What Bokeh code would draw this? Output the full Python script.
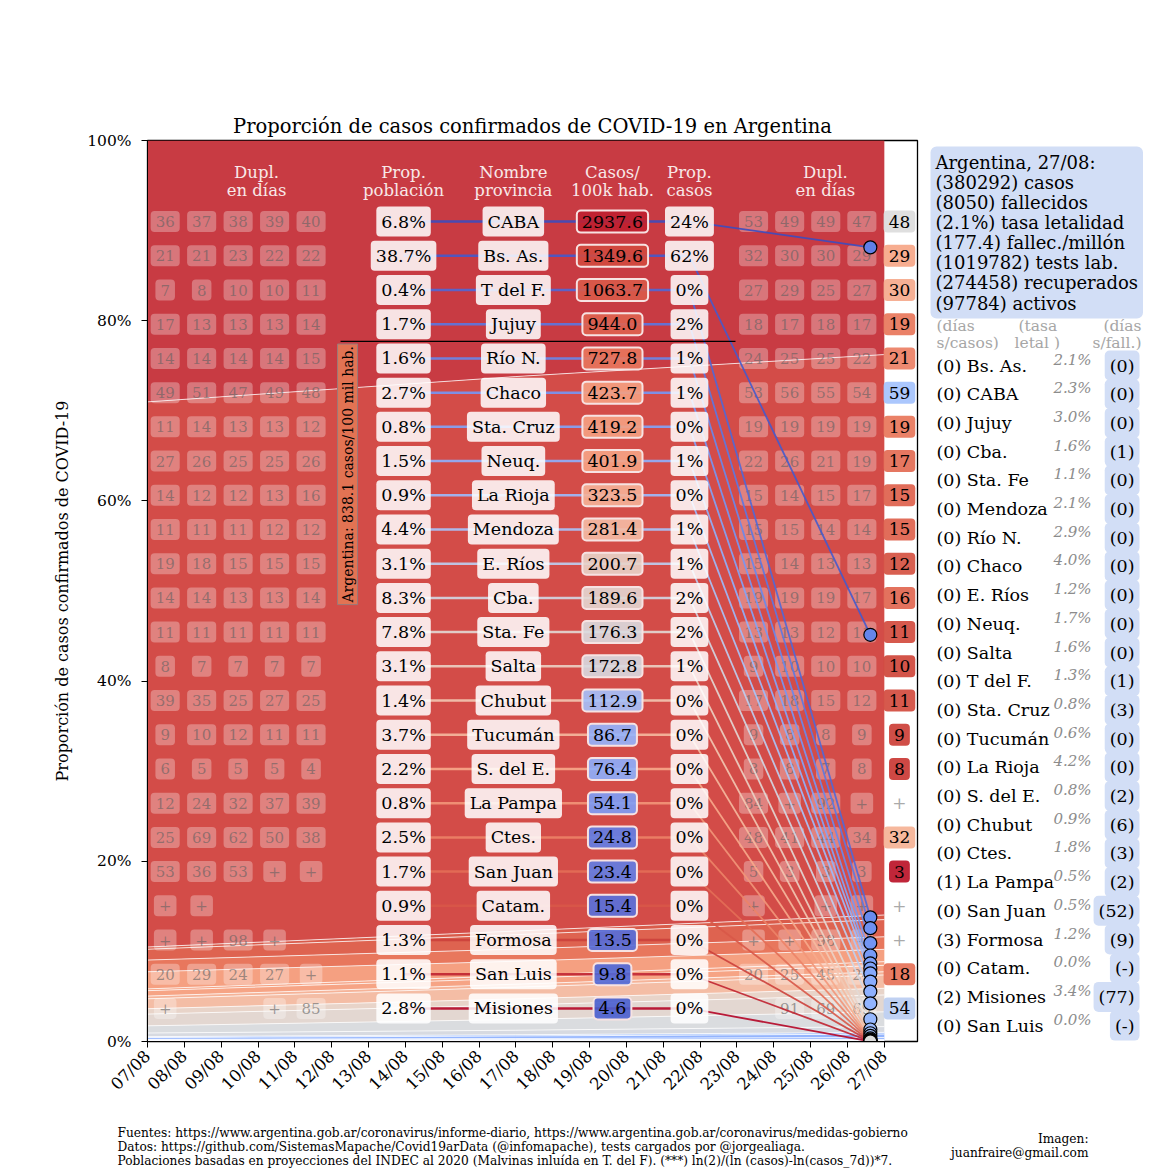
import math
from bokeh.plotting import figure
from bokeh.layouts import column, row
from bokeh.models import Range1d, FixedTicker, ColumnDataSource
from bokeh.core.properties import value
from bokeh.embed import file_html
from bokeh.resources import INLINE

FONT = "DejaVu Serif"

# ---------------- data ----------------
dates = ["07/08", "08/08", "09/08", "10/08", "11/08", "12/08", "13/08", "14/08", "15/08",
         "16/08", "17/08", "18/08", "19/08", "20/08", "21/08", "22/08", "23/08", "24/08",
         "25/08", "26/08", "27/08"]
area_dates = ["07/08", "17/08", "27/08"]

provinces = ["CABA", "Bs. As.", "T del F.", "Jujuy", "Río N.", "Chaco", "Sta. Cruz", "Neuq.",
             "La Rioja", "Mendoza", "E. Ríos", "Cba.", "Sta. Fe", "Salta", "Chubut", "Tucumán",
             "S. del E.", "La Pampa", "Ctes.", "San Juan", "Catam.", "Formosa", "San Luis", "Misiones"]
population_pct = [6.8, 38.7, 0.4, 1.7, 1.6, 2.7, 0.8, 1.5, 0.9, 4.4, 3.1, 8.3, 7.8, 3.1, 1.4, 3.7,
                  2.2, 0.8, 2.5, 1.7, 0.9, 1.3, 1.1, 2.8]
cases_per_100k = [2937.6, 1349.6, 1063.7, 944.0, 727.8, 423.7, 419.2, 401.9, 323.5, 281.4, 200.7,
                  189.6, 176.3, 172.8, 112.9, 86.7, 76.4, 54.1, 24.8, 23.4, 15.4, 13.5, 9.8, 4.6]
cases_pct = [24, 62, 0, 2, 1, 1, 0, 1, 0, 1, 1, 2, 2, 1, 0, 0, 0, 0, 0, 0, 0, 0, 0, 0]
argentina_rate = 838.1

# share of confirmed cases (%) per province at 07/08, 17/08, 27/08 (estimated)
share_0708 = [29.0, 60.5, 0.25, 1.2, 1.3, 1.9, 0.2, 0.6, 0.3, 1.1, 0.6, 1.3, 0.8, 0.4, 0.1, 0.2,
              0.05, 0.03, 0.06, 0.03, 0.01, 0.03, 0.01, 0.02]
share_1708 = [26.2, 61.54, 0.4, 1.6, 1.35, 1.6, 0.3, 0.65, 0.33, 1.3, 0.68, 1.6, 1.2, 0.5, 0.14,
              0.28, 0.12, 0.04, 0.07, 0.04, 0.01, 0.02, 0.01, 0.02]
share_2708 = [23.8, 62.2, 0.51, 1.91, 1.39, 1.37, 0.40, 0.72, 0.35, 1.48, 0.74, 1.88, 1.64, 0.64,
              0.19, 0.38, 0.20, 0.05, 0.07, 0.05, 0.02, 0.02, 0.01, 0.02]

dupl_left = [
    ["36", "37", "38", "39", "40"], ["21", "21", "23", "22", "22"], ["7", "8", "10", "10", "11"],
    ["17", "13", "13", "13", "14"], ["14", "14", "14", "14", "15"], ["49", "51", "47", "49", "48"],
    ["11", "14", "13", "13", "12"], ["27", "26", "25", "25", "26"], ["14", "12", "12", "13", "16"],
    ["11", "11", "11", "12", "12"], ["19", "18", "15", "15", "15"], ["14", "14", "13", "13", "14"],
    ["11", "11", "11", "11", "11"], ["8", "7", "7", "7", "7"], ["39", "35", "25", "27", "25"],
    ["9", "10", "12", "11", "11"], ["6", "5", "5", "5", "4"], ["12", "24", "32", "37", "39"],
    ["25", "69", "62", "50", "38"], ["53", "36", "53", "+", "+"], ["+", "+", "", "", ""],
    ["+", "+", "98", "+", ""], ["20", "29", "24", "27", "+"], ["+", "", "", "+", "85"],
]
dupl_right = [
    ["53", "49", "49", "47"], ["32", "30", "30", "29"], ["27", "29", "25", "27"], ["18", "17", "18", "17"],
    ["24", "25", "25", "22"], ["53", "56", "55", "54"], ["19", "19", "19", "19"], ["22", "26", "21", "19"],
    ["15", "14", "15", "17"], ["15", "15", "14", "14"], ["15", "14", "13", "13"], ["19", "19", "19", "17"],
    ["13", "13", "12", "11"], ["9", "10", "10", "10"], ["17", "18", "15", "12"], ["9", "8", "8", "9"],
    ["8", "8", "7", "8"], ["84", "+", "92", "+"], ["48", "41", "44", "34"], ["5", "3", "3", "3"],
    ["+", "", "+", "+"], ["+", "+", "98", "+"], ["20", "25", "45", "24"], ["", "91", "69", "69"],
]
dupl_last = ["48", "29", "30", "19", "21", "59", "19", "17", "15", "15", "12", "16", "11", "10",
             "11", "9", "8", "+", "32", "3", "+", "+", "18", "54"]

summary_lines = ["Argentina, 27/08:", "(380292) casos", "(8050) fallecidos", "(2.1%) tasa letalidad",
                 "(177.4) fallec./millón", "(1019782) tests lab.", "(274458) recuperados",
                 "(97784) activos"]
panel_provinces = ["Bs. As.", "CABA", "Jujuy", "Cba.", "Sta. Fe", "Mendoza", "Río N.", "Chaco",
                   "E. Ríos", "Neuq.", "Salta", "T del F.", "Sta. Cruz", "Tucumán", "La Rioja",
                   "S. del E.", "Chubut", "Ctes.", "La Pampa", "San Juan", "Formosa", "Catam.",
                   "Misiones", "San Luis"]
days_since_case = [0, 0, 0, 0, 0, 0, 0, 0, 0, 0, 0, 0, 0, 0, 0, 0, 0, 0, 1, 0, 3, 0, 2, 0]
lethality_pct = [2.1, 2.3, 3.0, 1.6, 1.1, 2.1, 2.9, 4.0, 1.2, 1.7, 1.6, 1.3, 0.8, 0.6, 4.2, 0.8,
                 0.9, 1.8, 0.5, 0.5, 1.2, 0.0, 3.4, 0.0]
days_since_death = ["0", "0", "0", "1", "0", "0", "0", "0", "0", "0", "0", "1", "3", "0", "0", "2",
                    "6", "3", "2", "52", "9", "-", "77", "-"]

footer_lines = [
    "Fuentes: https://www.argentina.gob.ar/coronavirus/informe-diario, https://www.argentina.gob.ar/coronavirus/medidas-gobierno",
    "Datos: https://github.com/SistemasMapache/Covid19arData (@infomapache), tests cargados por @jorgealiaga.",
    "Poblaciones basadas en proyecciones del INDEC al 2020 (Malvinas inluída en T. del F). (***) ln(2)/(ln (casos)-ln(casos_7d))*7.",
]
credit_lines = ["Imagen:", "juanfraire@gmail.com"]

# ---------------- styling helpers ----------------
CW = [(0.0, (59, 76, 192)), (0.1, (82, 108, 219)), (0.2, (111, 146, 243)), (0.3, (141, 176, 254)),
      (0.4, (170, 199, 253)), (0.5, (221, 221, 221)), (0.6, (242, 203, 183)), (0.7, (247, 168, 137)),
      (0.8, (234, 123, 96)), (0.9, (208, 73, 62)), (1.0, (180, 4, 38))]


def coolwarm(t):
    t = min(max(t, 0.0), 1.0)
    for (t0, c0), (t1, c1) in zip(CW[:-1], CW[1:]):
        if t <= t1:
            f = (t - t0) / (t1 - t0)
            return "#%02x%02x%02x" % tuple(int(round(a + (b - a) * f)) for a, b in zip(c0, c1))
    return "#b40426"


RMAX = max(cases_per_100k)
CENTER = 180.0


def rate_t(r):
    if r >= CENTER:
        return 0.5 + 0.5 * (math.log(r / CENTER) / math.log(RMAX / CENTER)) ** 0.7
    return 0.5 * (r / CENTER) ** 0.6


n = len(provinces)
row_y = [91.0 - 3.797 * i for i in range(n)]
x_left = [0.48 + 0.99 * j for j in range(5)]
x_right = [16.45 + 0.98 * j for j in range(4)]
x_last = 20.41
x_pop, x_name, x_rate, x_cpct = 6.95, 9.93, 12.62, 14.71
x_circle = 19.62

band_colors = [coolwarm(rate_t(r)) for r in cases_per_100k]
band_colors[0] = "#c83b43"
band_colors[1] = "#d34c48"
line_colors = [coolwarm(i / (n - 1)) for i in range(n)]
circle_colors = [coolwarm(0.15 + 0.35 * i / (n - 1)) for i in range(n)]
rate_colors = [coolwarm(min(rate_t(r), 0.96)) for r in cases_per_100k]

W_MAIN, W_PANEL = 925, 245
H_TOP, H_FOOT = 1110, 60
FRAME_TOP, FRAME_BOTTOM = 140, 1041

# ---------------- main figure ----------------
p = figure(width=W_MAIN, height=H_TOP, x_range=Range1d(0, 20.9), y_range=Range1d(0, 100),
           output_backend="svg", toolbar_location=None,
           min_border_left=147, min_border_right=W_MAIN - 917, min_border_top=FRAME_TOP,
           min_border_bottom=H_TOP - FRAME_BOTTOM)
p.background_fill_color = "white"
p.border_fill_color = "white"
p.outline_line_color = "black"
p.outline_line_width = 1.3
p.grid.visible = False

p.title.text = "Proporción de casos confirmados de COVID-19 en Argentina"
p.title.align = "center"
p.title.text_font = FONT
p.title.text_font_size = "19.5px"
p.title.text_font_style = "normal"
p.title.text_color = "black"
p.title.standoff = 6

p.yaxis.ticker = FixedTicker(ticks=[0, 20, 40, 60, 80, 100])
p.yaxis.major_label_overrides = {v: f"{v}%" for v in [0, 20, 40, 60, 80, 100]}
p.yaxis.axis_label = "Proporción de casos confirmados de COVID-19"
p.xaxis.ticker = FixedTicker(ticks=list(range(len(dates))))
p.xaxis.major_label_overrides = {i: d for i, d in enumerate(dates)}
p.xaxis.major_label_orientation = math.pi / 4
for ax in (p.xaxis, p.yaxis):
    ax.major_label_text_font = FONT
    ax.major_label_text_font_size = "15.5px"
    ax.major_label_text_color = "black"
    ax.axis_label_text_font = FONT
    ax.axis_label_text_font_size = "16px"
    ax.axis_label_text_font_style = "normal"
    ax.axis_label_text_color = "black"
    ax.minor_tick_line_color = None
    ax.major_tick_in = 0
    ax.major_tick_out = 6
    ax.major_tick_line_color = "black"
    ax.axis_line_color = "black"
p.xaxis.major_label_text_font_size = "16.5px"
p.yaxis.major_label_standoff = 10
p.yaxis.axis_label_standoff = 12
p.xaxis.major_label_standoff = 6

# ---------------- stacked area ----------------
area_x = [dates.index(d) for d in area_dates]
shares = [share_0708, share_1708, share_2708]
base = [0.0] * len(area_x)
tops = {}
centers = [0.0] * n
for i in reversed(range(n)):
    top = [base[k] + shares[k][i] for k in range(len(area_x))]
    p.varea(x=area_x, y1=base, y2=top, fill_color=band_colors[i], fill_alpha=1.0)
    tops[i] = top
    centers[i] = (base[-1] + top[-1]) / 2
    base = top
for i in reversed(range(1, n)):
    p.line(area_x, tops[i], line_color="white", line_width=1, line_alpha=0.75)

TXT = dict(text_font=value(FONT), text_align="center", text_baseline="middle")

# doubling-time small boxes
lx, ly, lt = [], [], []
for i in range(n):
    for j, v in enumerate(dupl_left[i]):
        if v:
            lx.append(x_left[j]); ly.append(row_y[i]); lt.append(v)
    for j, v in enumerate(dupl_right[i]):
        if v:
            lx.append(x_right[j]); ly.append(row_y[i]); lt.append(v)
p.text(x="x", y="y", text="t", source=ColumnDataSource(dict(x=lx, y=ly, t=lt)),
       text_font_size="15px", text_color="#606060", text_alpha=0.6,
       background_fill_color="white", background_fill_alpha=0.3, padding=5, border_radius=4, **TXT)

# connecting lines
seg = ColumnDataSource(dict(x0=[x_pop] * n, y0=row_y, x1=[x_cpct] * n, y1=row_y, c=line_colors))
p.segment(x0="x0", y0="y0", x1="x1", y1="y1", line_color="c", line_width=2.5, line_alpha=0.9, source=seg)
seg2 = ColumnDataSource(dict(x0=[x_cpct] * n, y0=row_y, x1=[x_circle] * n, y1=centers, c=line_colors))
p.segment(x0="x0", y0="y0", x1="x1", y1="y1", line_color="c", line_width=1.8, line_alpha=0.9, source=seg2)

# Argentina reference line
k_arg = sum(1 for r in cases_per_100k if r > argentina_rate)
y_arg = (row_y[k_arg - 1] + row_y[k_arg]) / 2
p.line([5.24, 15.96], [y_arg, y_arg], line_color="black", line_width=1.3)
p.text(x=[5.43], y=[y_arg - 0.3], text=[f"Argentina: {argentina_rate} casos/100 mil hab."],
       angle=math.pi / 2, text_font=value(FONT), text_font_size="14px", text_color="black",
       text_align="right", text_baseline="middle",
       background_fill_color="#e27353", background_fill_alpha=1.0,
       border_line_color="#9a7a7a", border_line_width=1, padding=2)

# circles at the end of the stack
p.scatter(x=[x_circle] * n, y=centers, size=13, fill_color=circle_colors, line_color="black",
          line_width=1.2)

# table columns
hdr = dict(text_font_size="16.5px", text_color="#f8e8e8", **TXT)
headers = [(2.96, "Dupl.", "en días"), (x_pop, "Prop.", "población"), (x_name, "Nombre", "provincia"),
           (x_rate, "Casos/", "100k hab."), (x_cpct, "Prop.", "casos"), (18.4, "Dupl.", "en días")]
p.text(x=[h[0] for h in headers], y=[96.45] * len(headers), text=[h[1] for h in headers], **hdr)
p.text(x=[h[0] for h in headers], y=[94.45] * len(headers), text=[h[2] for h in headers], **hdr)

box = dict(text_font_size="17.5px", text_color="black", background_fill_color="white",
           background_fill_alpha=0.86, padding=5, border_radius=4, **TXT)
p.text(x=[x_pop] * n, y=row_y, text=[f"{v:.1f}%" for v in population_pct], **box)
p.text(x=[x_name] * n, y=row_y, text=provinces, **box)
p.text(x=[x_cpct] * n, y=row_y, text=[f"{v}%" for v in cases_pct], **box)
rsrc = ColumnDataSource(dict(x=[x_rate] * n, y=row_y, t=[f"{v:.1f}" for v in cases_per_100k], c=rate_colors))
p.text(x="x", y="y", text="t", source=rsrc, text_font_size="17.5px", text_color="black",
       background_fill_color="c", background_fill_alpha=0.9, border_line_color="#f7e2e2",
       border_line_width=2, padding=5, border_radius=4, **TXT)

# last day doubling column
num_idx = [i for i in range(n) if dupl_last[i] != "+"]
plus_idx = [i for i in range(n) if dupl_last[i] == "+"]
lsrc = ColumnDataSource(dict(x=[x_last] * len(num_idx), y=[row_y[i] for i in num_idx],
                             t=[dupl_last[i] for i in num_idx],
                             c=[coolwarm(1 - float(dupl_last[i]) / 96) for i in num_idx]))
p.text(x="x", y="y", text="t", source=lsrc, text_font_size="17px", text_color="black",
       background_fill_color="c", background_fill_alpha=0.95, padding=5, border_radius=4, **TXT)
p.text(x=[x_last] * len(plus_idx), y=[row_y[i] for i in plus_idx], text=["+"] * len(plus_idx),
       text_font_size="17px", text_color="#aaaaaa", **TXT)


def blank(width, height, x0, y_top, y_bottom, border_top=0, border_bottom=0):
    f = figure(width=width, height=height, x_range=Range1d(x0, x0 + width),
               y_range=Range1d(y_bottom, y_top), output_backend="svg", toolbar_location=None,
               x_axis_type=None, y_axis_type=None, min_border=0,
               min_border_top=border_top, min_border_bottom=border_bottom)
    f.outline_line_color = None
    f.grid.visible = False
    f.background_fill_color = "white"
    f.border_fill_color = "white"
    return f


# ---------------- right panel (page pixel coordinates, frame aligned with main frame) ----------------
q = blank(W_PANEL, H_TOP, W_MAIN, FRAME_TOP, FRAME_BOTTOM, FRAME_TOP, H_TOP - FRAME_BOTTOM)
q.text(x=[930], y=[146], text=["\n".join(summary_lines)], text_font=value(FONT), text_font_size="18px",
       text_line_height=0.96, text_align="left", text_baseline="top", text_color="black",
       background_fill_color="#d2def6", background_fill_alpha=1.0, padding=5, border_radius=6)
gray = dict(text_font=value(FONT), text_font_size="15.5px", text_color="#a6a6a6", text_baseline="middle")
q.text(x=[936, 1018, 936, 1014], y=[325, 325, 342, 342], text=["(días", "(tasa", "s/casos)", "letal )"],
       text_align="left", **gray)
q.text(x=[1141, 1141], y=[325, 342], text=["(días", "s/fall.)"], text_align="right", **gray)

m = len(panel_provinces)
ry = [365 + 28.7 * k for k in range(m)]
q.text(x=[936] * m, y=ry, text=[f"({d}) {nm}" for d, nm in zip(days_since_case, panel_provinces)],
       text_font=value(FONT), text_font_size="17.5px", text_color="black", text_align="left",
       text_baseline="middle")
q.text(x=[1092] * m, y=[v - 6 for v in ry], text=[f"{v:.1f}%" for v in lethality_pct],
       text_font=value(FONT), text_font_size="15px", text_font_style="italic", text_color="#8c8c8c",
       text_align="right", text_baseline="middle", background_fill_color="white",
       background_fill_alpha=0.8, padding=1)
q.text(x=[1139] * m, y=ry, text=[f"({d})" for d in days_since_death], text_font=value(FONT),
       text_font_size="17.5px", text_color="black", text_align="right", text_baseline="middle",
       background_fill_color="#d2def6", background_fill_alpha=1.0, padding=5, border_radius=5)

# ---------------- footer ----------------
fo = blank(W_MAIN + W_PANEL, H_FOOT, 0, H_TOP, H_TOP + H_FOOT)
fo.text(x=[117] * len(footer_lines), y=[1132 + 14 * k for k in range(len(footer_lines))],
        text=footer_lines, text_font=value(FONT), text_font_size="12.2px", text_color="black",
        text_align="left", text_baseline="middle")
fo.text(x=[1088] * len(credit_lines), y=[1138 + 14 * k for k in range(len(credit_lines))],
        text=credit_lines, text_font=value(FONT), text_font_size="12.2px", text_color="black",
        text_align="right", text_baseline="middle")

layout = column(row(p, q, spacing=0), fo, spacing=0)
open("out.html", "w").write(file_html(layout, INLINE))
